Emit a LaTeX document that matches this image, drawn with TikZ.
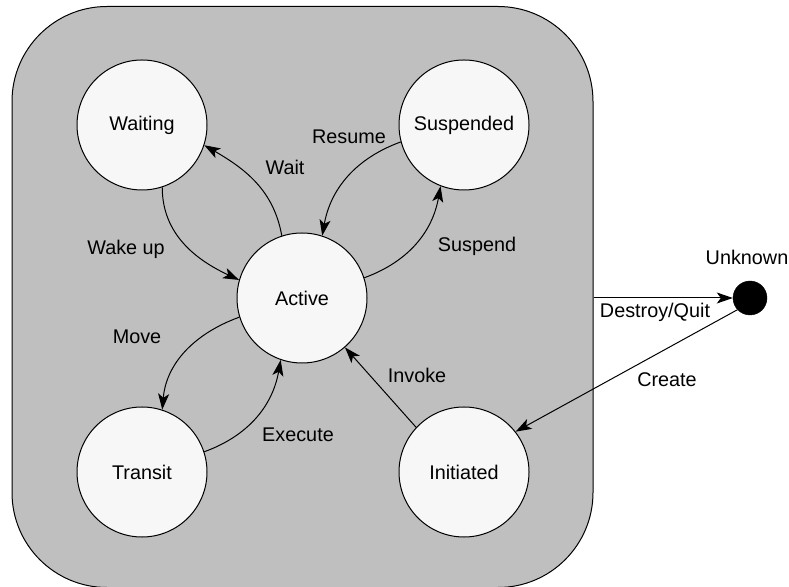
\documentclass[tikz,border=0pt]{standalone}
\usepackage{fontspec}
\setmainfont{Liberation Sans}
\usetikzlibrary{arrows.meta}
\begin{document}
\begin{tikzpicture}[x=1pt,y=1pt,
  every node/.style={font=\fontsize{19.8}{23}\selectfont},
  statebox/.style={circle,draw=black,line width=1pt,fill=white!97!black,
    minimum size=130pt,inner sep=0pt},
  container/.style={rectangle,draw=black,line width=1pt,fill=black!25,
    rounded corners=95pt,minimum width=581pt,minimum height=581pt,inner sep=0pt},
  enddot/.style={circle,fill=black,draw=black,minimum size=34pt,inner sep=0pt},
  trans/.style={draw=black,line width=1pt,
    -{Stealth[length=16pt,width=11pt,inset=4pt]}},
  lbl/.style={inner sep=0pt}]
\useasboundingbox (0,0) rectangle (789,586);

% composite state
\node[container] (box) at (302.5,289) {};

% states
\node[statebox] (waiting)   at (142,461) {Waiting};
\node[statebox] (suspended) at (464,461) {Suspended};
\node[statebox] (active)    at (302,288) {Active};
\node[statebox] (transit)   at (142,114) {Transit};
\node[statebox] (initiated) at (464,114) {Initiated};
\node[enddot]   (unknown)   at (750,288) {};

% transitions inside the composite state
\draw[trans] (active.108) to[out=100,in=-30] (waiting.-18);
\draw[trans] (waiting.-72) to[out=-90,in=155] (active.164);
\draw[trans] (suspended.195) to[out=200,in=80] (active.72);
\draw[trans] (active.18) to[out=20,in=-100] (suspended.-111);
\draw[trans] (active.197) to[out=200,in=85] (transit.72);
\draw[trans] (transit.18) to[out=20,in=-100] (active.-109);
\draw[trans] (initiated.137) -- (active.-49);

% transitions to and from the outside
\draw[trans] (box.east |- unknown.west) -- (unknown.west);
\draw[trans] (unknown.223) -- (initiated.38);

% labels
\node[lbl] (lwait)    at (285,419) {Wait};
\node[lbl] (lwake)    at (126,337) {Wake up};
\node[lbl] (lresume)  at (349,449) {Resume};
\node[lbl] (lsuspend) at (477,340) {Suspend};
\node[lbl] (lmove)    at (137,249) {Move};
\node[lbl] (lexecute) at (298,151) {Execute};
\node[lbl] (linvoke)  at (417,211) {Invoke};
\node[lbl] (lunknown) at (747,329) {Unknown};
\node[lbl] (ldestroy) at (655,274) {Destroy/Quit};
\node[lbl] (lcreate)  at (667,206) {Create};
\end{tikzpicture}
\end{document}
